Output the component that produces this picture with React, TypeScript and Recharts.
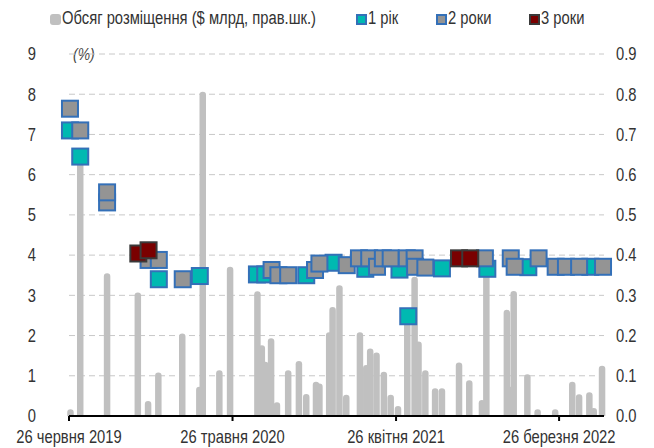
import { ComposedChart, Bar, Scatter, XAxis, YAxis, CartesianGrid } from 'recharts'

// days counted from 26 червня 2019
const volDays = [3, 23, 78, 141, 162, 183, 232, 267, 274, 308, 330, 386, 395, 402, 414, 426, 449, 471, 486, 506, 513, 533, 540, 554, 568, 596, 609, 617, 630, 645, 659, 674, 693, 708, 716, 730, 750, 764, 799, 820, 846, 855, 897, 904, 911, 939, 960, 996, 1031, 1045, 1066, 1075, 1092]
// обсяг розміщення, $ млрд
const volValues = [0.017, 0.65, 0.355, 0.307, 0.037, 0.108, 0.205, 0.073, 0.806, 0.114, 0.371, 0.31, 0.176, 0.135, 0.193, 0.034, 0.114, 0.137, 0.055, 0.085, 0.081, 0.208, 0.271, 0.325, 0.053, 0.208, 0.127, 0.168, 0.158, 0.11, 0.053, 0.025, 0.24, 0.346, 0.185, 0.114, 0.069, 0.069, 0.133, 0.089, 0.04, 0.38, 0.264, 0.073, 0.311, 0.104, 0.017, 0.017, 0.085, 0.054, 0.059, 0.02, 0.125]

const y1Days = [2, 23, 184, 268, 385, 402, 486, 542, 607, 677, 695, 764, 857, 941, 1068]
const y1Rates = [7.1, 6.45, 3.4, 3.48, 3.52, 3.52, 3.5, 3.81, 3.66, 3.64, 2.48, 3.67, 3.66, 3.7, 3.71]

const y2Days = [2, 23, 78, 78, 163, 184, 233, 415, 429, 449, 504, 513, 569, 594, 615, 631, 643, 659, 692, 708, 709, 730, 852, 905, 913, 962, 997, 1018, 1045, 1094]
const y2Rates = [7.64, 7.1, 5.31, 5.56, 3.88, 3.88, 3.4, 3.63, 3.5, 3.5, 3.63, 3.79, 3.75, 3.92, 3.92, 3.71, 3.92, 3.92, 3.92, 3.92, 3.71, 3.69, 3.92, 3.92, 3.71, 3.92, 3.71, 3.71, 3.71, 3.71]

const y3Days = [142, 163, 799, 822]
const y3Rates = [4.04, 4.12, 3.92, 3.92]

const xTicks = [0, 335, 670, 1004]
const xTickLabels = ['26 червня 2019', '26 травня 2020', '26 квітня 2021', '26 березня 2022']
const leftTicks = [0, 1, 2, 3, 4, 5, 6, 7, 8, 9]
const rightTicks = [0, 0.1, 0.2, 0.3, 0.4, 0.5, 0.6, 0.7, 0.8, 0.9]

const volData = volDays.map((d, i) => ({ d, vol: volValues[i] }))
const toPoints = (days: number[], rates: number[]) => days.map((d, i) => ({ d, rate: rates[i] }))

const FONT = "'Liberation Sans', Arial, sans-serif"
const NARROW = 0.82
const TEXT = '#333'
const BLUE = '#3470b8'

// eslint-disable-next-line @typescript-eslint/no-explicit-any
const square = (fill: string, stroke: string) => (p: any) => (
  <rect x={p.cx - 8} y={p.cy - 8} width={16} height={16} fill={fill} stroke={stroke} strokeWidth={2} />
)

// eslint-disable-next-line @typescript-eslint/no-explicit-any
const RoundBar = (p: any) => {
  const w = 6.5
  const r = 3.25
  const x = p.x + p.width / 2 - w / 2
  const h = Math.max(p.height, 0)
  if (h <= 0) return null
  const top = p.y
  const bottom = p.y + h
  const rr = Math.min(r, h)
  return (
    <path
      d={`M${x},${bottom} L${x},${top + rr} A${r},${rr} 0 0 1 ${x + w},${top + rr} L${x + w},${bottom} Z`}
      fill="#c0c0c0"
    />
  )
}

// eslint-disable-next-line @typescript-eslint/no-explicit-any
const makeTick = (fmt: (v: number) => string, dy: string) => (p: any) => (
  <g transform={`translate(${p.x},${p.y})`}>
    <text transform={`scale(${NARROW},1)`} textAnchor={p.textAnchor} dy={dy} fontSize={18} fill={TEXT} fontFamily={FONT}>
      {fmt(p.payload.value)}
    </text>
  </g>
)

const Swatch = ({ fill, stroke, round }: { fill: string; stroke?: string; round?: boolean }) => (
  <span
    style={{
      display: 'inline-block', width: 11, height: 11, background: fill,
      border: stroke ? `2px solid ${stroke}` : 'none', boxSizing: 'border-box',
      borderRadius: round ? 3 : 0, verticalAlign: -1,
    }}
  />
)

const LegendItem = ({ left, label, children }: { left: number; label: string; children: React.ReactNode }) => (
  <div style={{ position: 'absolute', left, top: 8, whiteSpace: 'nowrap', fontSize: 18, color: TEXT }}>
    {children}
    <span style={{ display: 'inline-block', transform: `scaleX(${NARROW})`, transformOrigin: 'left', marginLeft: 1 }}>{label}</span>
  </div>
)

export default function App() {
  return (
    <div style={{ position: 'fixed', left: 0, top: 0, width: 654, height: 448, background: '#fff', fontFamily: FONT }}>
      <LegendItem left={50} label="Обсяг розміщення ($ млрд, прав.шк.)"><Swatch fill="#c0c0c0" round /></LegendItem>
      <LegendItem left={356} label="1 рік"><Swatch fill="#00b9b1" stroke={BLUE} /></LegendItem>
      <LegendItem left={436} label="2 роки"><Swatch fill="#949494" stroke={BLUE} /></LegendItem>
      <LegendItem left={529} label="3 роки"><Swatch fill="#7a0000" stroke="#3a3a3a" /></LegendItem>
      <div style={{ position: 'absolute', top: 45, left: 73, fontSize: 17, fontStyle: 'italic', color: '#444', transform: `scaleX(${NARROW})`, transformOrigin: 'left' }}>(%)</div>
      <ComposedChart width={654} height={448} data={volData} margin={{ top: 54, right: 0, bottom: 0, left: 0 }}>
        <CartesianGrid yAxisId="l" vertical={false} stroke="#c8c8c8" strokeDasharray="6 4" />
        <XAxis
          dataKey="d"
          type="number"
          domain={[0, 1096]}
          ticks={xTicks}
          tick={makeTick((v) => xTickLabels[xTicks.indexOf(v)] ?? '', '0.71em')}
          height={32}
          axisLine={{ stroke: '#000', strokeWidth: 2 }}
          tickLine={{ stroke: '#000', strokeWidth: 2 }}
          tickSize={5}
          tickMargin={9}
        />
        <YAxis
          yAxisId="l"
          orientation="left"
          domain={[0, 9]}
          ticks={leftTicks}
          width={69}
          axisLine={false}
          tickLine={false}
          tickSize={0}
          tickMargin={33}
          tick={makeTick((v) => String(v), '0.35em')}
        />
        <YAxis
          yAxisId="r"
          orientation="right"
          domain={[0, 0.9]}
          ticks={rightTicks}
          width={50}
          axisLine={false}
          tickLine={false}
          tickSize={0}
          tickMargin={12}
          tick={makeTick((v) => v.toFixed(1), '0.35em')}
        />
        <Bar yAxisId="r" dataKey="vol" fill="#c0c0c0" shape={RoundBar} isAnimationActive={false} />
        <Scatter yAxisId="l" data={toPoints(y1Days, y1Rates)} dataKey="rate" shape={square('#00b9b1', BLUE)} isAnimationActive={false} />
        <Scatter yAxisId="l" data={toPoints(y2Days, y2Rates)} dataKey="rate" shape={square('#949494', BLUE)} isAnimationActive={false} />
        <Scatter yAxisId="l" data={toPoints(y3Days, y3Rates)} dataKey="rate" shape={square('#7a0000', '#3a3a3a')} isAnimationActive={false} />
      </ComposedChart>
    </div>
  )
}
